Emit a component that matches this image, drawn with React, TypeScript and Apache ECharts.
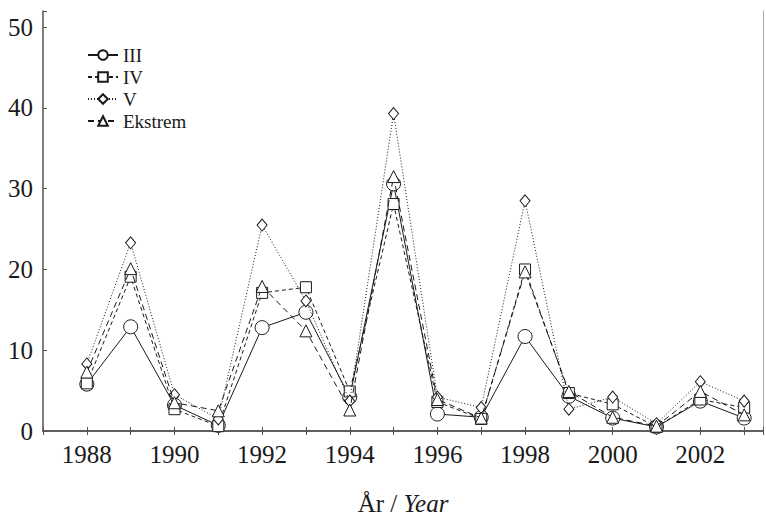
import React, { useEffect, useRef } from "react";
import * as echarts from "echarts";

const years = [1988, 1989, 1990, 1991, 1992, 1993, 1994, 1995, 1996, 1997, 1998, 1999, 2000, 2001, 2002, 2003];
const seriesIII = [5.8, 12.9, 3.2, 0.7, 12.8, 14.7, 4.2, 30.6, 2.1, 1.7, 11.7, 4.3, 1.6, 0.5, 3.7, 1.6];
const seriesIV = [5.9, 19.1, 2.7, 0.6, 17.1, 17.8, 4.9, 28.1, 3.6, 1.5, 20.0, 4.7, 3.3, 0.5, 3.9, 2.9];
const seriesV = [8.3, 23.3, 4.5, 1.5, 25.5, 16.1, 3.7, 39.3, 4.2, 2.9, 28.5, 2.7, 4.2, 0.9, 6.1, 3.7];
const seriesEkstrem = [7.3, 20.1, 3.5, 2.5, 17.9, 12.4, 2.6, 31.5, 3.9, 1.6, 19.7, 4.9, 1.7, 0.6, 4.9, 2.0];
const seriesNames = ["III", "IV", "V", "Ekstrem"];
const yTicks = [0, 10, 20, 30, 40, 50];

const FONT = "Liberation Serif, Times New Roman, serif";
const INK = "#1a1a1a";
const AXIS = "#555";

export default function App() {
  const ref = useRef<HTMLDivElement>(null);
  useEffect(() => {
    if (!ref.current) return;
    const chart = echarts.init(ref.current, undefined, { renderer: "svg" });
    const pairs = (vals: number[]) => years.map((y, i) => [y, vals[i]]);
    const mk = (
      name: string,
      vals: number[],
      symbol: string,
      symbolSize: number | number[],
      type: any,
      z: number
    ) => ({
      name,
      type: "line",
      data: pairs(vals),
      symbol,
      symbolSize,
      z,
      lineStyle: { color: INK, width: 1, type },
      itemStyle: { color: "#fff", borderColor: INK, borderWidth: 1 },
      emphasis: { disabled: true },
    });
    const option: any = {
      animation: false,
      backgroundColor: "#fff",
      textStyle: { fontFamily: FONT },
      grid: { left: 43, right: 1, top: 11, bottom: 77, containLabel: false },
      legend: {
        data: seriesNames,
        orient: "vertical",
        left: 82,
        top: 40,
        itemWidth: 30,
        itemHeight: 12,
        itemGap: 2,
        textStyle: { fontFamily: FONT, fontSize: 19, color: INK, lineHeight: 20 },
        inactiveColor: INK,
        selectedMode: false,
      },
      xAxis: [
        {
          type: "value",
          min: 1987,
          max: 2003.43,
          interval: 1,
          position: "bottom",
          axisLine: { show: true, lineStyle: { color: AXIS, width: 1.5 } },
          axisTick: { show: true, inside: true, length: 4, lineStyle: { color: AXIS } },
          splitLine: { show: false },
          axisLabel: {
            fontFamily: FONT,
            fontSize: 25,
            color: INK,
            margin: 11,
            formatter: (v: number) => (v % 2 === 0 && v >= 1988 && v <= 2002 ? String(v) : ""),
          },
          name: "{a|År / }{b|Year}",
          nameLocation: "middle",
          nameGap: 60,
          nameTextStyle: {
            fontFamily: FONT,
            rich: {
              a: { fontFamily: FONT, fontSize: 25, color: INK },
              b: { fontFamily: FONT, fontSize: 25, color: INK, fontStyle: "italic" },
            },
          },
        },
        {
          type: "value",
          min: 1987,
          max: 2003.43,
          interval: 1,
          position: "top",
          axisLine: { show: true, lineStyle: { color: AXIS, width: 1.5 } },
          axisTick: { show: true, inside: true, length: 4, lineStyle: { color: AXIS } },
          axisLabel: { show: false },
          splitLine: { show: false },
        },
      ],
      yAxis: [
        {
          type: "value",
          min: 0,
          max: 52,
          interval: 10,
          position: "left",
          axisLine: { show: true, lineStyle: { color: AXIS, width: 1.5 } },
          axisTick: { show: true, inside: true, length: 4, lineStyle: { color: AXIS } },
          splitLine: { show: false },
          axisLabel: {
            fontFamily: FONT,
            fontSize: 25,
            color: INK,
            margin: 10,
            formatter: (v: number) => (yTicks.includes(v) ? String(v) : ""),
          },
        },
        {
          type: "value",
          min: 0,
          max: 52,
          interval: 10,
          position: "right",
          axisLine: { show: true, lineStyle: { color: "#aaa", width: 1 } },
          axisTick: { show: false },
          axisLabel: { show: false },
          splitLine: { show: false },
        },
      ],
      series: [
        mk("III", seriesIII, "circle", 14, "solid", 2),
        mk("IV", seriesIV, "rect", 11, [4, 3], 3),
        mk("V", seriesV, "diamond", [10, 12], [1, 2], 4),
        mk("Ekstrem", seriesEkstrem, "triangle", 12, [6, 4], 5),
      ],
    };
    chart.setOption(option);
    return () => chart.dispose();
  }, []);
  return (
    <div
      ref={ref}
      style={{ position: "absolute", left: 0, top: 0, width: 766, height: 521 }}
    />
  );
}
